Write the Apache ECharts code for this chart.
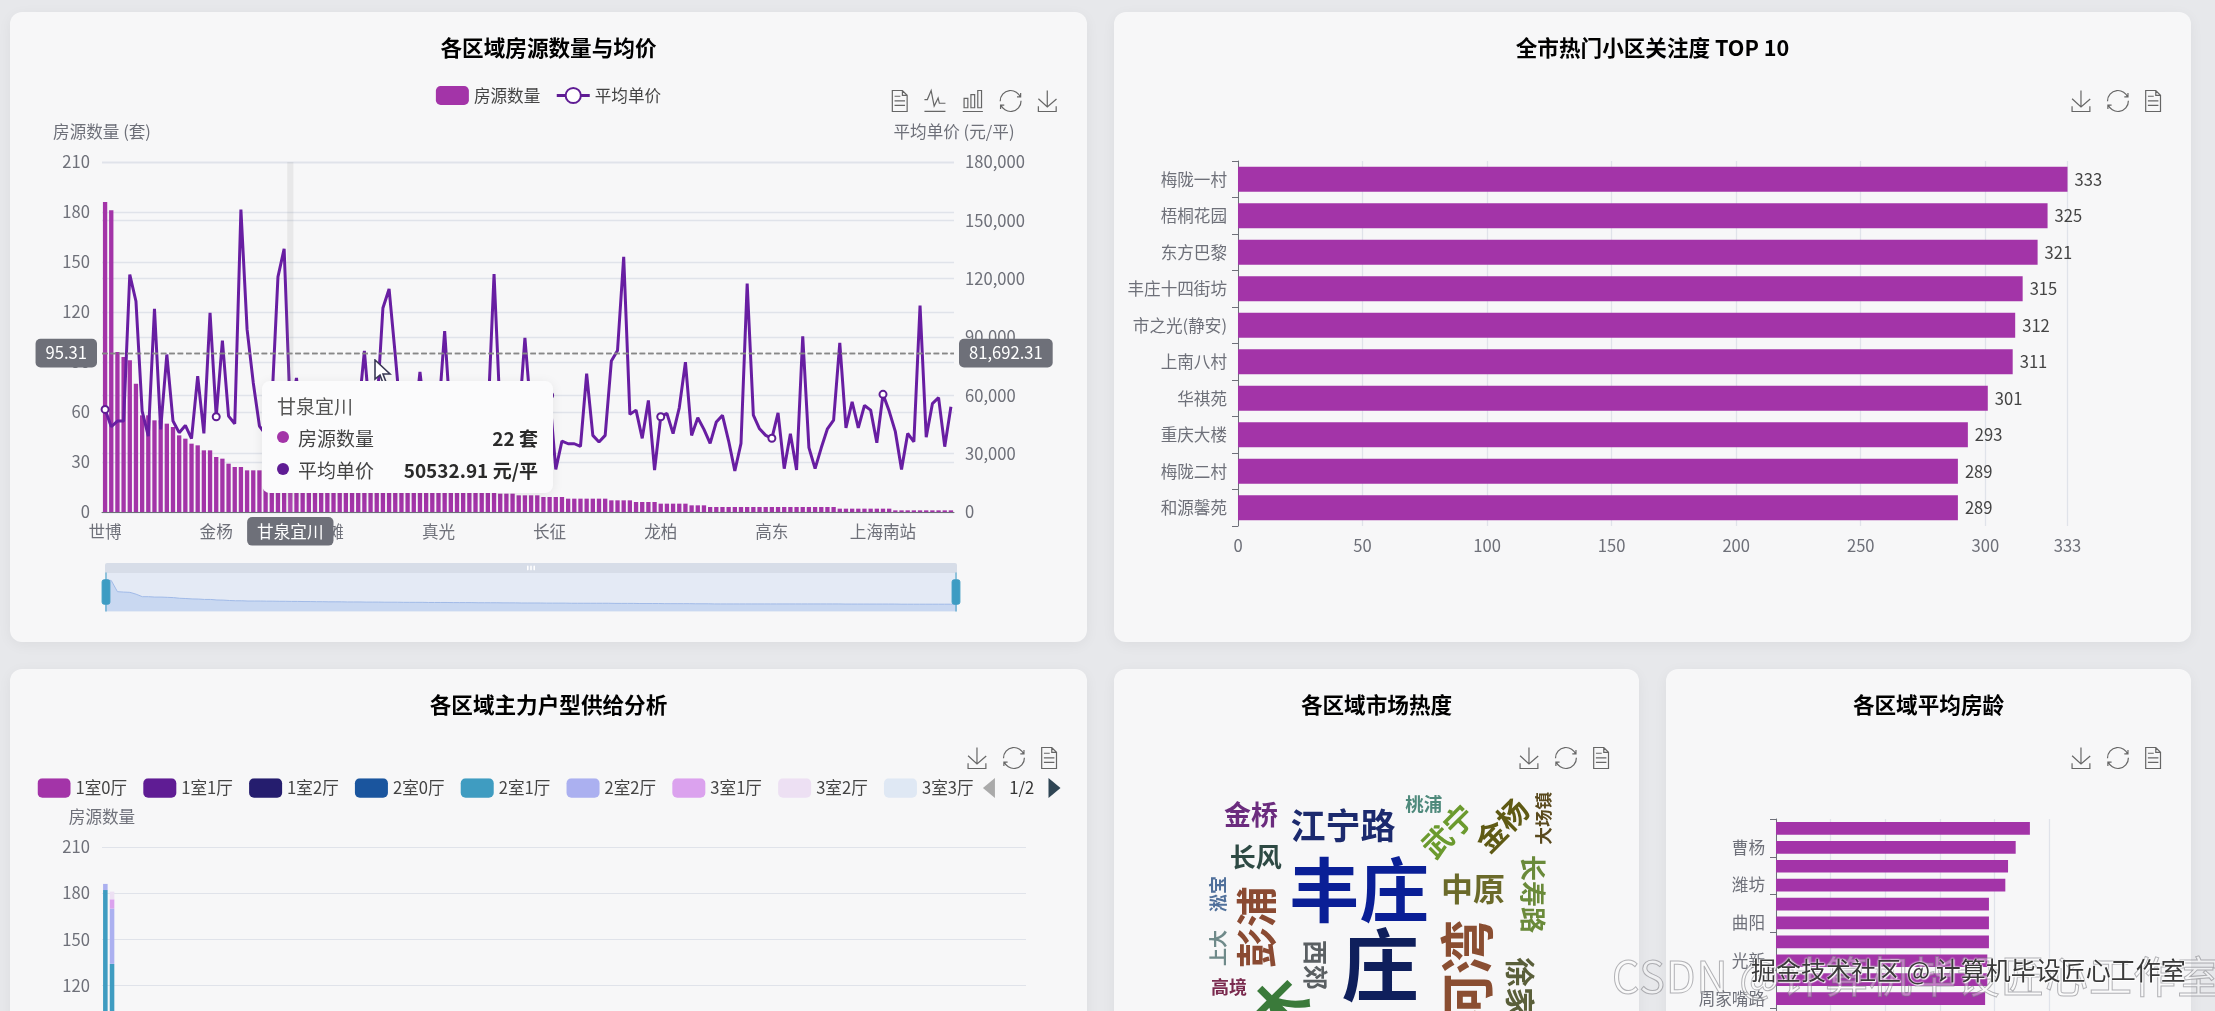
<!DOCTYPE html>
<html lang="zh"><head><meta charset="utf-8">
<script src="https://cdn.jsdelivr.net/npm/echarts@6/dist/echarts.min.js"></script>
<style>
html,body{margin:0;padding:0;width:2215px;height:1011px;overflow:hidden;background:#e7e8eb;font-family:"Noto Sans CJK SC",sans-serif}
.card{position:absolute;background:#f7f7f8;border-radius:12px;box-shadow:0 3px 14px rgba(0,0,0,.05);height:630px}
.wm1{position:absolute;left:1612px;top:943px;font-size:43px;white-space:nowrap;color:rgba(255,255,255,.35);-webkit-text-stroke:1px rgba(120,120,125,.55);z-index:30;letter-spacing:1px}
.wm2{position:absolute;left:1751px;top:951px;font-size:25px;white-space:nowrap;color:#3a3a3a;text-shadow:0 0 2px #fff,0 0 2px #fff,1px 1px 1px #fff;z-index:31}
svg.cur{position:absolute;left:374px;top:359px;z-index:40}
</style></head><body>
<div id="c1" class="card" style="left:10px;top:12px;width:1077px"></div>
<div id="c2" class="card" style="left:1114px;top:12px;width:1077px"></div>
<div id="c3" class="card" style="left:10px;top:669px;width:1077px"></div>
<div id="c4" class="card" style="left:1114px;top:669px;width:525px"></div>
<div id="c5" class="card" style="left:1666px;top:669px;width:525px"></div>
<svg class="cur" width="18" height="26" viewBox="0 0 18 26"><path d="M1 1 L1 20 L6 16 L9 24 L12 23 L9 15 L16 15 Z" fill="#fff" stroke="#3a3a55" stroke-width="1.6"/></svg>
<div class="wm1">CSDN @计算机毕设匠心工作室</div>
<div class="wm2">掘金技术社区 @ 计算机毕设匠心工作室</div>
<script>
// ---------- chart 1: districts, listing counts and mean unit price ----------
const labeledDistricts = [[0,'世博'],[18,'金杨'],[30,'甘泉宜川'],[36,'前滩'],[54,'真光'],[72,'长征'],[90,'龙柏'],[108,'高东'],[126,'上海南站']];
const listingCounts = [186,181,96,93,91,77,58,58,55,55,53,51,46,44,41,40,37,37,33,32,29,27,27,25,25,25,24,24,23,23,22,22,21,21,20,20,19,19,19,18,18,18,17,17,17,16,16,16,15,15,15,15,14,14,14,14,13,13,13,13,12,12,12,12,11,11,11,10,10,10,10,9,9,9,9,8,8,8,8,8,8,8,7,7,7,7,6,6,6,6,5,5,5,5,5,4,4,4,3,3,3,3,3,3,3,3,3,3,3,3,3,3,3,3,3,3,3,3,3,2,2,2,2,2,2,2,2,2,1,1,1,1,1,1,1,1,1,1];
const meanPrices = [52760,43850,46760,46760,122100,108400,51900,39000,104500,42500,81000,46760,40800,44500,37700,69900,40400,102400,49000,88200,49300,45400,155500,93900,66500,44200,40000,55000,120900,135300,50532.91,68900,38000,55000,44000,60000,48000,40000,56000,47000,35000,50000,82800,45000,52000,104900,114700,80700,45000,38000,42000,72000,44000,36000,50000,93000,45000,52000,35000,47000,55000,41000,48000,122400,50000,43000,39000,46000,89500,50000,36000,44000,60000,21900,36500,35100,35100,33700,71100,39400,36000,39400,77600,83100,131200,50200,52400,37900,57400,21600,49000,50700,40300,53600,77100,39400,48500,42500,35300,46300,49700,36500,21100,35300,117500,49800,42800,39400,37900,51000,22300,40300,21600,90400,33100,22300,33000,42800,47300,87000,43300,56700,43300,54800,52400,35600,60500,51900,41300,21900,40400,36100,106200,38500,55700,58800,33600,54100];
const pointerIndex = 30, pointerPrice = 81692.31;
// ---------- chart 2: top 10 communities ----------
const communities = ['梅陇一村','梧桐花园','东方巴黎','丰庄十四街坊','市之光(静安)','上南八村','华祺苑','重庆大楼','梅陇二村','和源馨苑'];
const attention = [333,325,321,315,312,311,301,293,289,289];
// ---------- chart 3: stacked layouts (only the bars that rise above the fold can be read) ----------
const layoutNames = ['1室0厅','1室1厅','1室2厅','2室0厅','2室1厅','2室2厅','3室1厅','3室2厅','3室3厅','4室2厅','4室3厅'];
const layoutColors = ['#A334A8','#5F1C94','#251D6E','#1A559E','#3F9CC1','#ABB0F0','#DBA2EE','#EDE0F3','#DFE8F4','#C9D6EA','#B7C4E0'];
const layout2r1h = [182,134];
const layout2r2h = [4,36];
const layout3r1h = [0,6];
const layout3r2h = [0,5];
// ---------- chart 4: market heat word cloud ----------
const cloudWords = ['金桥','江宁路','桃浦','武宁','金杨','大场镇','长风','丰庄','中原','长寿路','淞宝','彭浦','上大','西郊','庄','河湾','徐家汇','高境','花木'];
const cloudHeat  = [27,35,18.5,30,30,17.6,26,70,32,26,18,41,18,25,78,54,30,18,58];
const cloudX     = [26.1,43.6,59.0,63.6,73.9,81.7,27.0,46.7,68.4,79.7,19.8,27.2,19.8,38.3,50.7,67.4,77.5,21.9,27.5];
const cloudY     = [23.2,24.9,21.4,25.7,24.8,23.7,29.8,35.1,34.9,35.7,35.7,41.0,44.3,47.0,47.0,48.4,52.9,50.5,57.0];
const cloudTurn  = [0,0,0,45,45,90,0,0,0,-90,90,90,90,-90,0,90,-90,0,45];
const cloudColors= ['#6B2C7E','#1C2A6E','#4F8A7C','#6B9A2E','#5F5A14','#5A4A1E','#2E4A44','#0A1F96','#6B6A2A','#6A8A3A','#4F6F9A','#8A4A32','#6F8A8A','#5A5F62','#0F1F5C','#8A4E32','#5A5F3A','#7A2A4E','#3A7A3A'];
// ---------- chart 5: mean building age, listed bottom-up as the axis runs ----------
const ageNamesTopDown = ['', '曹杨','', '潍坊','', '曲阳','', '光新','', '周家嘴路','','','','','','','','','',''];
const ageTopDown = [46.5,43.9,42.5,42,39,39,39,38.7,38.7,38.3,38,37.8,37.5,37.2,37,36.8,36.5,36.2,36,35.7];

const FONT = '"Noto Sans CJK SC"', LABEL = 16.6, GREY = '#6E7079', PURPLE = '#A334A8', SPLIT = '#E0E3EA';
const districts = new Array(138).fill('');
labeledDistricts.forEach(([i, n]) => { districts[i] = n; });

const titleOf = t => ({ text: t, left: 'center', top: 20, textStyle: { fontSize: 21.6, fontWeight: 'bold', color: '#000', fontFamily: FONT } });
const pickTools = { saveAsImage: {}, restore: {}, dataView: {} };
const toolboxOf = (feature, right) => ({ top: 61, right, itemSize: 21, itemGap: 12.3, feature, iconStyle: { borderColor: '#666', borderWidth: 1.2 } });
const axisLabel = extra => Object.assign({ color: GREY, fontSize: LABEL, fontFamily: FONT }, extra);
const axisName = { color: GREY, fontSize: LABEL, fontFamily: FONT };
const pointerLabel = { backgroundColor: '#6E7079', color: '#fff', fontSize: LABEL, fontFamily: FONT, padding: [6, 10], borderRadius: 5, margin: 5, precision: 2 };

const c1 = echarts.init(document.getElementById('c1'));
c1.setOption({
  animation: false, textStyle: { fontFamily: FONT },
  title: titleOf('各区域房源数量与均价'),
  legend: { top: 69, left: 'center', itemWidth: 33, itemHeight: 19, itemGap: 15, textStyle: { fontSize: LABEL, color: '#444', fontFamily: FONT },
    data: [{ name: '房源数量' }, { name: '平均单价', lineStyle: { width: 3 }, itemStyle: { borderWidth: 3 } }] },
  toolbox: toolboxOf({ dataView: {}, magicType: { type: ['line', 'bar'] }, restore: {}, saveAsImage: {} }, 13),
  tooltip: {
    trigger: 'axis', alwaysShowContent: true, transitionDuration: 0, position: [252, 369],
    backgroundColor: '#FBFBFC', borderWidth: 0, padding: 0,
    extraCssText: 'box-shadow:0 2px 12px rgba(0,0,0,.08);border-radius:8px;',
    axisPointer: { type: 'cross', crossStyle: { color: '#888', width: 1.4, type: 'dashed' }, label: pointerLabel },
    formatter: ps => {
      const row = (p, unit, c) => `<div style="display:flex;align-items:center;height:32px"><span style="width:12px;height:12px;border-radius:50%;background:${c};margin-right:9px"></span><span style="color:#444">${p.seriesName}</span><span style="margin-left:auto;font-weight:bold;color:#2a2a2a">${p.value} ${unit}</span></div>`;
      return `<div style="box-sizing:border-box;width:291px;height:112px;padding:9px 15px;font-size:19px;font-family:${FONT.replace(/"/g, "'")}"><div style="color:#555;line-height:32px;height:31px">${districts[ps[0].dataIndex] || ps[0].name}</div>${row(ps[0], '套', PURPLE)}${row(ps[1], '元/平', '#5F1C94')}</div>`;
    }
  },
  grid: { left: 92, top: 150, width: 852, height: 350 },
  dataZoom: [{
    type: 'slider', left: 91, right: 134, top: 551, height: 39, start: 0, end: 100, showDetail: false, moveHandleSize: 10, handleSize: '100%',
    backgroundColor: 'transparent', borderColor: 'transparent', fillerColor: 'rgba(171,196,235,.25)',
    handleStyle: { color: '#3D9CC3', borderColor: '#3D9CC3' }, moveHandleStyle: { color: '#D7DDE8', opacity: 1 },
    dataBackground: { lineStyle: { color: '#9DB7E6', width: 1 }, areaStyle: { color: '#D3DFF3', opacity: 1 } },
    selectedDataBackground: { lineStyle: { color: '#9DB7E6', width: 1 }, areaStyle: { color: '#D3DFF3', opacity: 1 } }
  }],
  xAxis: [{
    type: 'category', data: districts,
    axisLine: { lineStyle: { color: GREY } }, axisTick: { interval: 17, length: 7, lineStyle: { color: GREY } },
    axisLabel: axisLabel({ interval: 17, margin: 11 }),
    axisPointer: { type: 'shadow', shadowStyle: { color: 'rgba(150,150,150,.15)' }, label: pointerLabel }
  }],
  yAxis: [
    { type: 'value', name: '房源数量 (套)', nameGap: 22, nameTextStyle: axisName, min: 0, max: 210, interval: 30, axisLabel: axisLabel({ margin: 12 }), splitLine: { lineStyle: { color: SPLIT, width: 1.4 } } },
    { type: 'value', name: '平均单价 (元/平)', nameGap: 22, nameTextStyle: axisName, min: 0, max: 180000, interval: 30000, axisLabel: axisLabel({ margin: 11 }), splitLine: { lineStyle: { color: SPLIT, width: 1.4 } } }
  ],
  series: [
    { name: '房源数量', type: 'bar', data: listingCounts, barWidth: '70%', itemStyle: { color: PURPLE } },
    { name: '平均单价', type: 'line', yAxisIndex: 1, data: meanPrices, symbol: 'emptyCircle', symbolSize: 7, showSymbol: true, showAllSymbol: 'auto', lineStyle: { color: '#5F1C94', width: 3 }, itemStyle: { color: '#5F1C94', borderWidth: 2.5 } }
  ]
});
const px = c1.convertToPixel({ xAxisIndex: 0 }, pointerIndex);
const py = c1.convertToPixel({ yAxisIndex: 1 }, pointerPrice);
c1.dispatchAction({ type: 'showTip', x: px, y: py });

const c2 = echarts.init(document.getElementById('c2'));
c2.setOption({
  animation: false, textStyle: { fontFamily: FONT },
  title: titleOf('全市热门小区关注度 TOP 10'),
  toolbox: toolboxOf(pickTools, 13),
  grid: { left: 124, top: 149, width: 829.5, height: 365 },
  xAxis: { type: 'value', min: 0, max: 'dataMax', axisLabel: axisLabel({ margin: 11 }), axisLine: { show: false }, axisTick: { show: false }, splitLine: { show: true, lineStyle: { color: SPLIT, width: 1.3 } } },
  yAxis: { type: 'category', inverse: true, data: communities, axisLine: { show: true, lineStyle: { color: GREY } }, axisTick: { show: true, length: 6, lineStyle: { color: GREY } }, axisLabel: axisLabel({ margin: 11 }) },
  series: [{ type: 'bar', data: attention, barWidth: '68%', itemStyle: { color: PURPLE }, label: { show: true, position: 'right', distance: 7, color: '#444', fontSize: LABEL, fontFamily: FONT } }]
});

const c3 = echarts.init(document.getElementById('c3'));
const layoutValues = { '2室1厅': layout2r1h, '2室2厅': layout2r2h, '3室1厅': layout3r1h, '3室2厅': layout3r2h };
c3.setOption({
  animation: false, textStyle: { fontFamily: FONT },
  title: titleOf('各区域主力户型供给分析'),
  toolbox: toolboxOf(pickTools, 13),
  color: layoutColors,
  legend: {
    type: 'scroll', left: 22.5, top: 104, width: 1023, itemWidth: 33, itemHeight: 19.5, itemGap: 16.2,
    textStyle: { fontSize: LABEL, color: '#444', fontFamily: FONT }, data: layoutNames,
    pageIconColor: '#2F4554', pageIconInactiveColor: '#AAA', pageIconSize: [12, 20], pageTextStyle: { color: '#333', fontSize: LABEL, fontFamily: FONT }, pageButtonGap: 10, pageButtonItemGap: 7
  },
  grid: { left: 92, top: 178, width: 924, height: 323 },
  xAxis: { type: 'category', data: districts, axisLabel: axisLabel({ interval: 17 }), axisLine: { lineStyle: { color: GREY } }, axisTick: { interval: 17 } },
  yAxis: { type: 'value', name: '房源数量', nameGap: 22, nameTextStyle: axisName, min: 0, max: 210, interval: 30, axisLabel: axisLabel({ margin: 12 }), splitLine: { lineStyle: { color: SPLIT, width: 1.2 } } },
  series: layoutNames.map(n => ({ name: n, type: 'bar', stack: 'layout', barWidth: '68%', data: layoutValues[n] || [] }))
});

const c4 = echarts.init(document.getElementById('c4'));
c4.setOption({
  animation: false,
  title: titleOf('各区域市场热度'),
  toolbox: toolboxOf(pickTools, 13),
  grid: { left: 0, right: 0, top: 0, bottom: 0 },
  xAxis: { type: 'value', min: 0, max: 100, show: false },
  yAxis: { type: 'value', min: 0, max: 100, inverse: true, show: false },
  series: [{
    type: 'custom', coordinateSystem: 'cartesian2d', silent: true, clip: false,
    data: cloudWords.map((w, i) => [cloudX[i], cloudY[i], cloudHeat[i], cloudTurn[i], i]),
    renderItem: (params, api) => {
      const pos = api.coord([api.value(0), api.value(1)]);
      const i = api.value(4);
      return { type: 'text', x: pos[0], y: pos[1], rotation: api.value(3) * Math.PI / 180,
        style: { text: cloudWords[i], fontSize: api.value(2), fontWeight: 'bold', fontFamily: FONT, fill: cloudColors[i], align: 'center', verticalAlign: 'middle' } };
    }
  }]
});

const c5 = echarts.init(document.getElementById('c5'));
c5.setOption({
  animation: false, textStyle: { fontFamily: FONT },
  title: titleOf('各区域平均房龄'),
  toolbox: toolboxOf(pickTools, 13),
  grid: { left: 110, top: 150, width: 273, height: 378 },
  xAxis: { type: 'value', min: 0, max: 50, interval: 10, axisLabel: axisLabel({}), splitLine: { lineStyle: { color: SPLIT, width: 1.2 } } },
  yAxis: { type: 'category', data: ageNamesTopDown.slice().reverse(), axisLine: { show: true, lineStyle: { color: GREY } }, axisTick: { show: true, interval: 1, length: 6, lineStyle: { color: GREY } }, axisLabel: axisLabel({ interval: 1, margin: 11 }) },
  series: [{ type: 'bar', data: ageTopDown.slice().reverse(), barWidth: '67%', itemStyle: { color: PURPLE } }]
});
</script>
</body></html>
